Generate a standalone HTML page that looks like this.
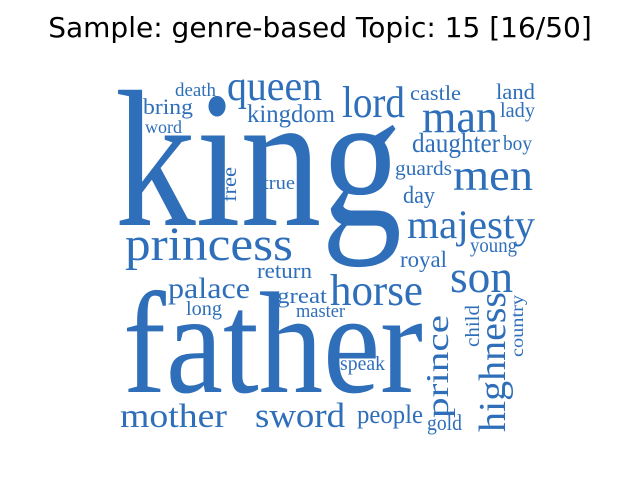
<!DOCTYPE html>
<html><head><meta charset="utf-8"><style>
html,body{margin:0;padding:0;background:#fff;width:640px;height:480px;overflow:hidden}
svg{display:block}
</style></head><body>
<svg id="cloud" width="640" height="480" viewBox="0 0 640 480" xmlns="http://www.w3.org/2000/svg">
<rect width="640" height="480" fill="#fff"/>
<text x="320" y="37" text-anchor="middle" font-family="DejaVu Sans, sans-serif" font-size="28" fill="#000">Sample: genre-based Topic: 15 [16/50]</text>
<g id="words" fill="#2f6fba" font-family="Liberation Serif, serif"></g>
</svg>
<script>
// words, sizes, positions (x,y baseline), fitted lengths, rotation
const words = ["king","father","princess","queen","kingdom","lord","death","bring","word","castle","land","lady","man","daughter","boy","guards","men","day","true","majesty","young","royal","return","son","palace","horse","great","long","master","speak","mother","sword","people","gold","free","prince","child","highness","country"];
const sizes = [195,145,48,42,25,44,19,22,18,21,22,21,47,27,21,20,44,24,19,40,20,23,22,46,30,44,22,20,19,20,34,35,26,22,20,32,20,38,18];
const xs = [115,123,125,227,247,342,175,143,145,410,496,500,422,412,503,395,453,403,263,407,470,400,257,450,168,330,277,186,296,340,120,255,357,427,236,448,479,505,523];
const ys = [225,392,260,100,122,117,96,114,133,100,99,117,132,152,150,175,190,203,189,238,252,267,278,292,298,305,303,315,317,370,427,427,423,430,202,418,347,432,357];
const lens = [287,300,168,95,88,63,41,50,37,51,39,35,76,88,29,57,80,32,32,128,47,47,55,63,82,93,50,36,49,45,107,90,66,35,35,103,42,140,62];
const rot = [0,0,0,0,0,0,0,0,0,0,0,0,0,0,0,0,0,0,0,0,0,0,0,0,0,0,0,0,0,0,0,0,0,0,1,1,1,1,1];
const g = document.getElementById('words');
const NS = 'http://www.w3.org/2000/svg';
for (let i = 0; i < words.length; i++) {
  const t = document.createElementNS(NS, 'text');
  
  
  t.setAttribute('font-size', sizes[i]);
  t.setAttribute('textLength', lens[i]);
  t.setAttribute('lengthAdjust', 'spacingAndGlyphs');
  if (rot[i]) {
    t.setAttribute('transform', 'translate(' + xs[i] + ',' + ys[i] + ') rotate(-90)');
    t.setAttribute('x', 0); t.setAttribute('y', 0);
  } else {
    t.setAttribute('x', xs[i]); t.setAttribute('y', ys[i]);
  }
  t.textContent = words[i];
  g.appendChild(t);
}
</script>
</body></html>
